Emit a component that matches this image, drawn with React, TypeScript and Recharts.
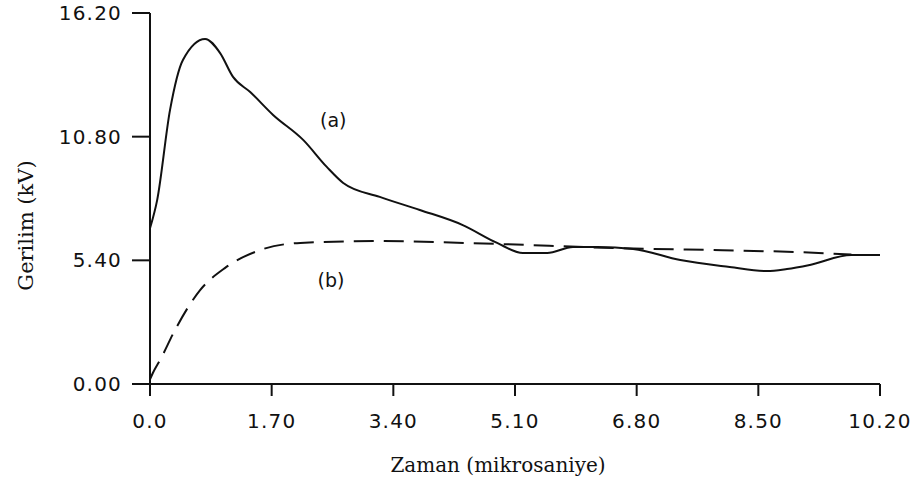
import { LineChart, Line, XAxis, YAxis, ReferenceDot, Label } from "recharts";

// gerilim egrisi (a) - zaman (mikrosaniye), kV
const timeA = [0, 0.1, 0.28, 0.46, 0.77, 0.98, 1.16, 1.4, 1.72, 2.14, 2.47, 2.7, 3.21, 3.77, 4.37, 4.85, 5.21, 5.55, 5.91, 6.25, 6.75, 7.41, 8.1, 8.62, 8.9, 9.22, 9.8, 10.2];
const voltA = [6.8, 8.03, 11.97, 14.15, 15.07, 14.45, 13.41, 12.75, 11.75, 10.66, 9.48, 8.78, 8.17, 7.6, 6.94, 6.16, 5.72, 5.72, 5.98, 5.98, 5.9, 5.41, 5.11, 4.93, 5.02, 5.2, 5.63, 5.63];

// egri (b), kesikli
const timeB = [0, 0.04, 0.15, 0.35, 0.7, 1.05, 1.54, 2.1, 3.21, 4.8, 6.47, 8.0, 9.04, 9.8];
const voltB = [0.2, 0.48, 1.1, 2.36, 4.1, 5.07, 5.85, 6.16, 6.24, 6.12, 5.94, 5.84, 5.76, 5.65];

const xTicks = [0, 1.7, 3.4, 5.1, 6.8, 8.5, 10.2];
const xTickLabels = ["0.0", "1.70", "3.40", "5.10", "6.80", "8.50", "10.20"];
const yTicks = [0, 5.4, 10.8, 16.2];
const yTickLabels = ["0.00", "5.40", "10.80", "16.20"];

const curveLabels = [
  { t: 2.56, v: 11.5, text: "(a)" },
  { t: 2.53, v: 4.54, text: "(b)" },
];

const seriesA = timeA.map((t, i) => ({ t, v: voltA[i] }));
const seriesB = timeB.map((t, i) => ({ t, v: voltB[i] }));

const tickFont = { fontFamily: "DejaVu Sans", fontSize: 20, fill: "#111", letterSpacing: 1.2 };

export default function App() {
  return (
    <div style={{ position: "absolute", left: 0, top: 0, width: 913, height: 485, background: "#fff" }}>
      <LineChart width={913} height={485} margin={{ top: 13, right: 33, bottom: 0, left: 0 }}>
        <XAxis
          type="number"
          dataKey="t"
          height={101}
          domain={[0, 10.2]}
          ticks={xTicks}
          tickFormatter={(v) => xTickLabels[xTicks.indexOf(v)]}
          tick={tickFont}
          tickSize={12}
          tickMargin={18}
          stroke="#111"
          strokeWidth={2}
          allowDataOverflow
        >
          <Label
            value="Zaman (mikrosaniye)"
            position="insideBottom"
            offset={13}
            dx={-17}
            fill="#111"
            style={{ fontFamily: "DejaVu Serif", fontSize: 20, fill: "#111" }}
          />
        </XAxis>
        <YAxis
          type="number"
          dataKey="v"
          width={150}
          domain={[0, 16.2]}
          ticks={yTicks}
          tickFormatter={(v) => yTickLabels[yTicks.indexOf(v)]}
          tick={tickFont}
          tickSize={18}
          tickMargin={10}
          stroke="#111"
          strokeWidth={2}
          allowDataOverflow
        >
          <Label
            value="Gerilim (kV)"
            angle={-90}
            position="insideLeft"
            offset={26}
            dy={27}
            fill="#111"
            style={{ textAnchor: "middle", fontFamily: "DejaVu Serif", fontSize: 21, fill: "#111" }}
          />
        </YAxis>
        <Line
          data={seriesA}
          dataKey="v"
          type="monotone"
          stroke="#111"
          strokeWidth={2}
          dot={false}
          isAnimationActive={false}
        />
        <Line
          data={seriesB}
          dataKey="v"
          type="monotone"
          stroke="#111"
          strokeWidth={2}
          strokeDasharray="20 10"
          dot={false}
          isAnimationActive={false}
        />
        {curveLabels.map((c) => (
          <ReferenceDot key={c.text} x={c.t} y={c.v} r={0} stroke="none" fill="none" ifOverflow="visible">
            <Label value={c.text} position="center" fill="#111" style={{ fontFamily: "DejaVu Sans", fontSize: 19, fill: "#111" }} />
          </ReferenceDot>
        ))}
      </LineChart>
    </div>
  );
}
